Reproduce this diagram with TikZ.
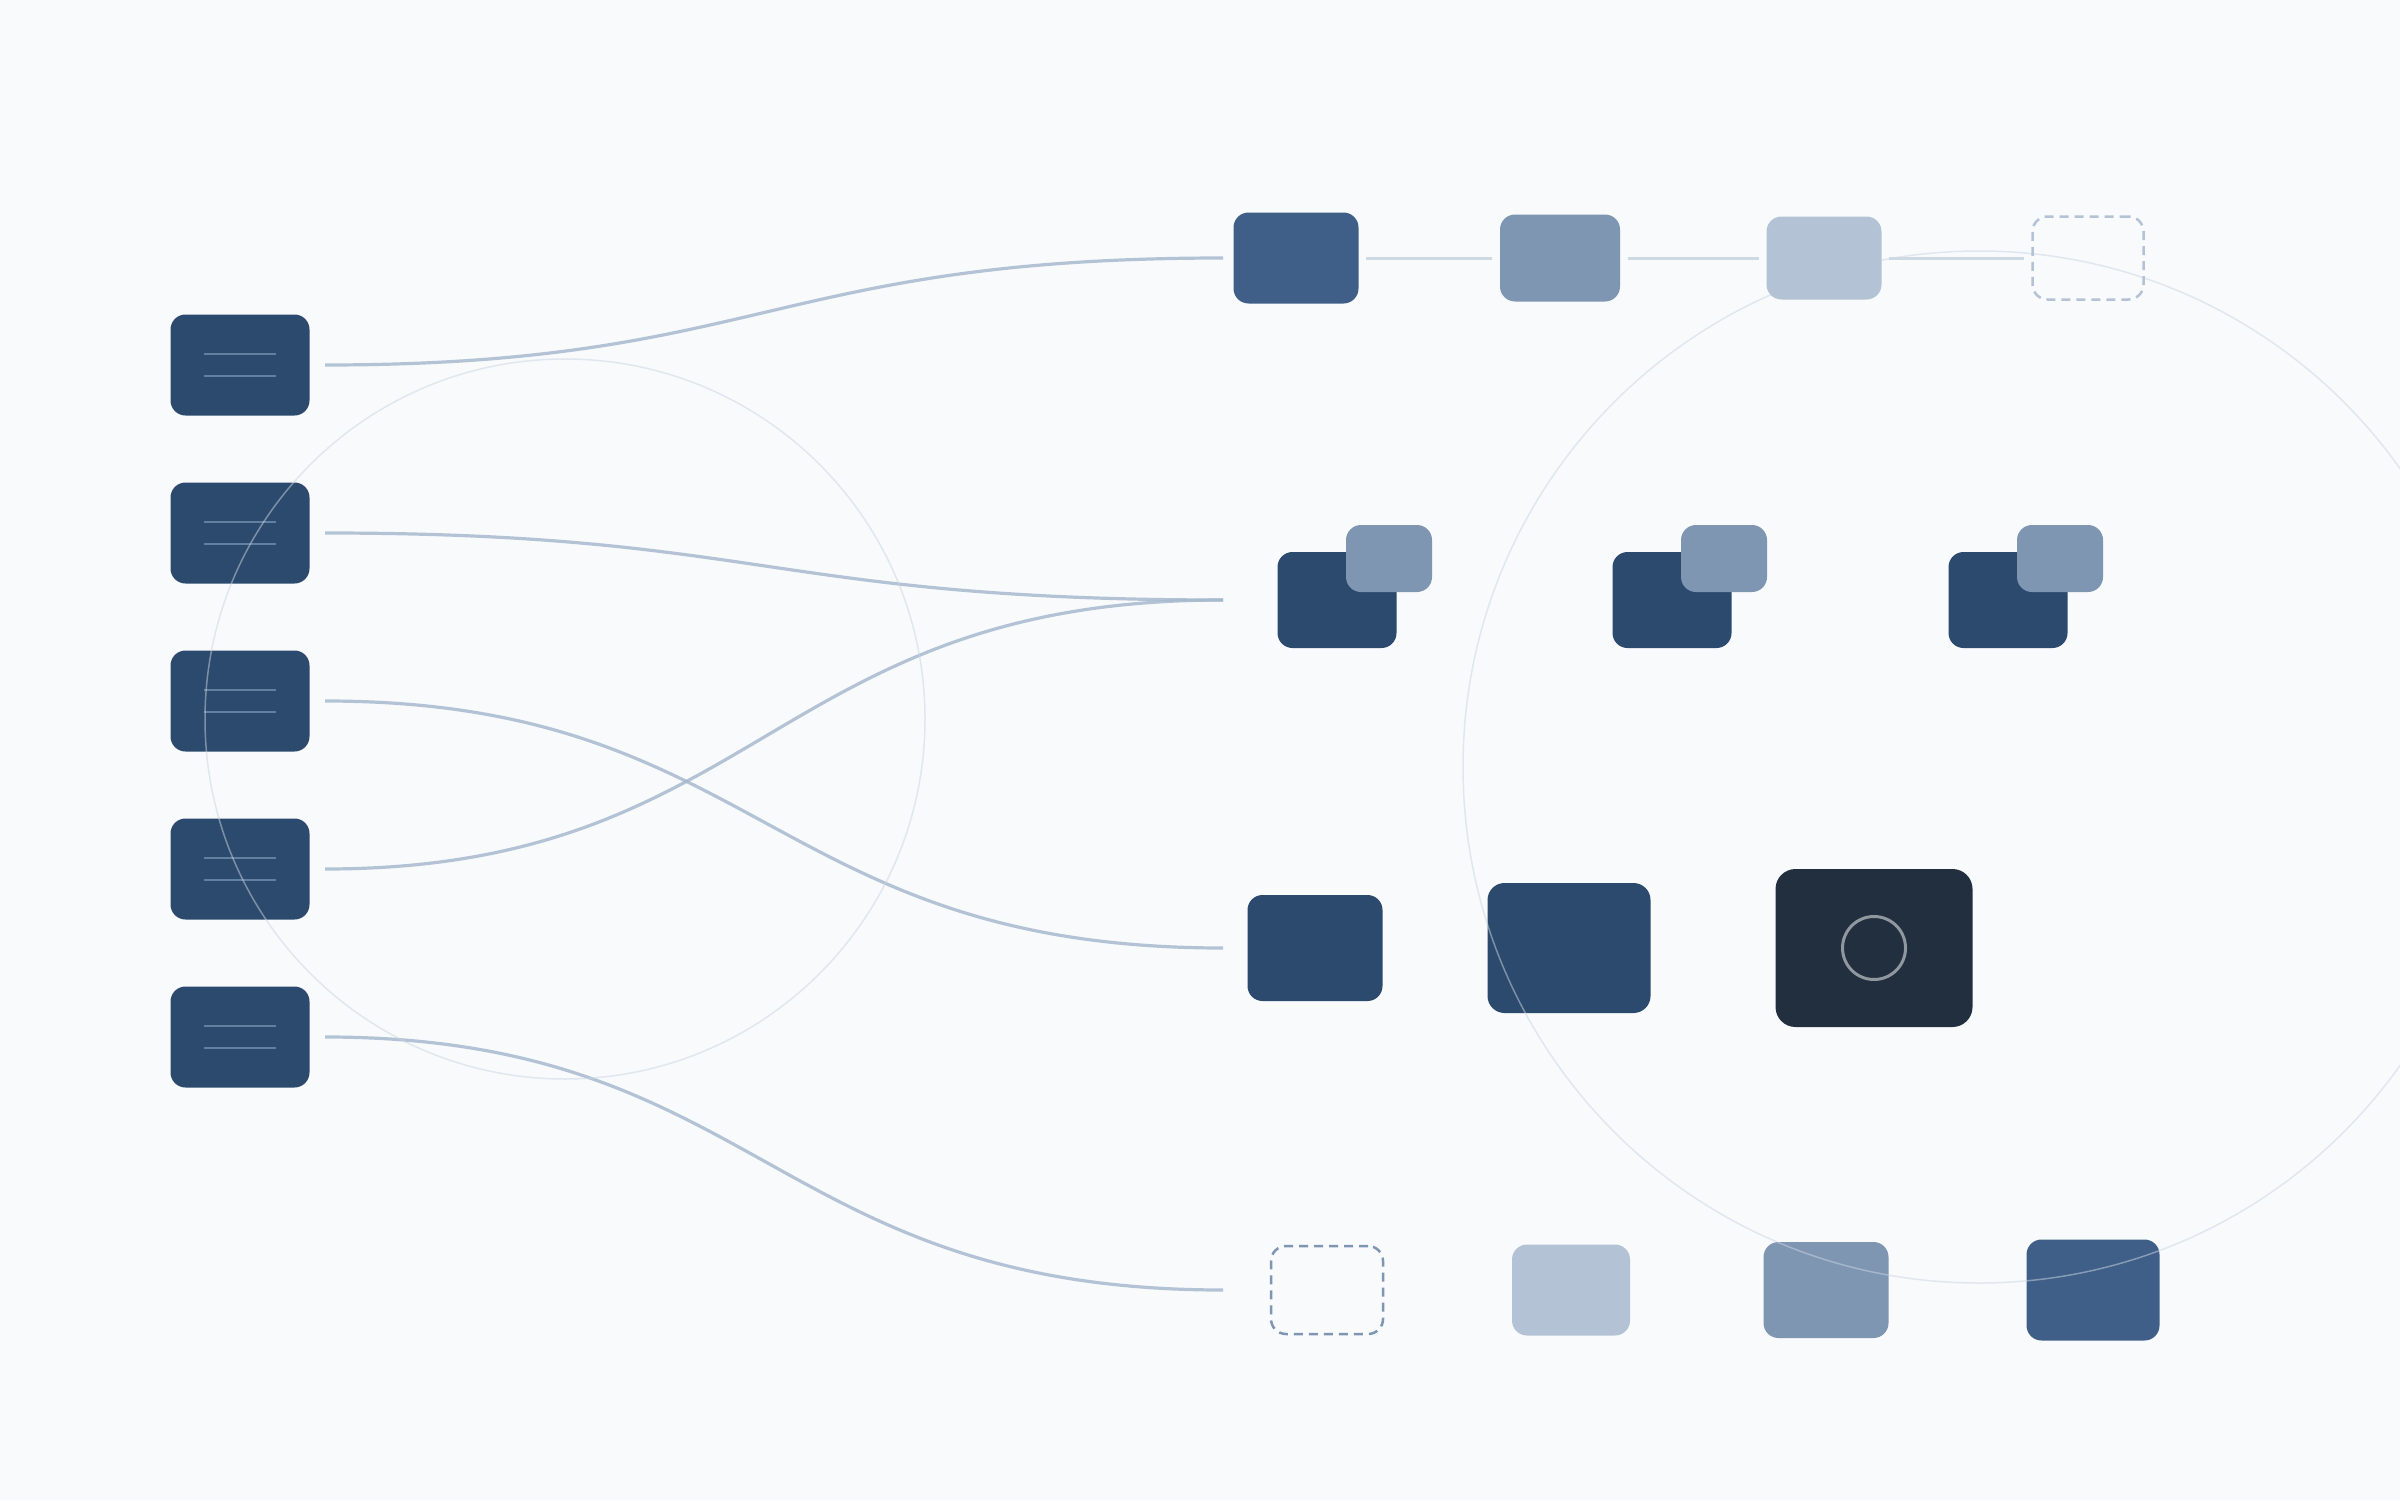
\documentclass[tikz,border=0pt]{standalone}
\usetikzlibrary{positioning}

\definecolor{bg}{HTML}{F8FAFC}
\definecolor{navy}{HTML}{2C4A6E}
\definecolor{steel}{HTML}{3F5F88}
\definecolor{slate}{HTML}{7F96B3}
\definecolor{mist}{HTML}{B3C3D5}
\definecolor{ink}{HTML}{222F3E}
\definecolor{wire}{HTML}{A7B9CD}
\definecolor{rail}{HTML}{CFD9E4}
\definecolor{halo}{HTML}{CBD5E1}
\definecolor{barline}{HTML}{62809F}
\definecolor{ring}{HTML}{8F979F}

\begin{document}
\begin{tikzpicture}[
x=0.1mm, y=-0.1mm,
node distance={26.4mm},
box/.style = {rectangle, rounded corners=1.5mm, inner sep=0, draw=none},
doc/.style = {box, fill=navy, minimum width=13.9mm, minimum height=10.1mm},
ghost/.style = {box, line width=0.25mm, dash pattern=on 0.9mm off 0.6mm},
wire/.style = {draw=wire, line width=0.32mm, opacity=0.85, shorten <=1.5mm},
rail/.style = {draw=rail, line width=0.3mm, shorten <=0.7mm, shorten >=0.7mm},
halo/.style = {draw=halo, line width=0.15mm, opacity=0.5},
bar/.style = {draw=barline, line width=0.25mm} ]

\fill[bg] (0,0) rectangle (2400,1500);
\useasboundingbox (0,0) rectangle (2400,1500);

% documents
\node[doc] (d1) at (240,365) {};
\foreach \i/\j in {2/1,3/2,4/3,5/4}
  \node[doc, below of=d\j, node distance=16.8mm] (d\i) {};
\foreach \i in {1,...,5} {
  \draw[bar] ([xshift=-3.6mm,yshift=1.1mm]d\i.center) -- ++(72,0);
  \draw[bar] ([xshift=-3.6mm,yshift=-1.1mm]d\i.center) -- ++(72,0);
}

% stacked pairs
\foreach \x [count=\i] in {1337,1672,2008} {
  \node[box, fill=navy, minimum width=11.9mm, minimum height=9.6mm] (p\i) at (\x,600) {};
  \node[box, fill=slate, minimum width=8.6mm, minimum height=6.7mm] (q\i) at ([xshift=5.2mm,yshift=4.15mm]p\i.center) {};
}

% growing blocks
\node[box, fill=navy, minimum width=13.5mm, minimum height=10.6mm] (m1) at (1315,948) {};
\node[box, fill=navy, rounded corners=1.7mm, minimum width=16.3mm, minimum height=13mm] (m2) at (1569,948) {};
\node[box, fill=ink, rounded corners=2mm, minimum width=19.7mm, minimum height=15.8mm] (m3) at (1874,948) {};
\node[circle, draw=ring, line width=0.3mm, minimum size=6.3mm, inner sep=0] (m4) at (m3) {};

% bottom row
\node[ghost, draw=slate, minimum width=11.2mm, minimum height=8.8mm] (b1) at (1327,1290) {};
\node[box, fill=mist, minimum width=11.8mm, minimum height=9.1mm] (b2) at (1571,1290) {};
\node[box, fill=slate, minimum width=12.5mm, minimum height=9.6mm] (b3) at (1826,1290) {};
\node[box, fill=steel, minimum width=13.3mm, minimum height=10.1mm] (b4) at (2093,1290) {};

% curve ends
\coordinate (t0) at (1223,258);
\coordinate (p0) at (1223,600);
\coordinate (m0) at (1223,948);
\coordinate (b0) at (1223,1290);

\draw[wire] (d1.east) .. controls +(450,0) and +(-450,0) .. (t0);
\draw[wire] (d2.east) .. controls +(450,0) and +(-450,0) .. (p0);
\draw[wire] (d3.east) .. controls +(450,0) and +(-450,0) .. (m0);
\draw[wire] (d4.east) .. controls +(450,0) and +(-450,0) .. (p0);
\draw[wire] (d5.east) .. controls +(450,0) and +(-450,0) .. (b0);

% rings
\draw[halo] (565,719) circle[radius=36mm];
\draw[halo] (1979,767) circle[radius=51.6mm];

% top row
\node[box, fill=steel, minimum width=12.5mm, minimum height=9.1mm] (t1) at (1296,258) {};
\node[box, fill=slate, minimum width=12mm, minimum height=8.7mm, right of=t1] (t2) {};
\node[box, fill=mist, minimum width=11.5mm, minimum height=8.3mm, right of=t2] (t3) {};
\node[ghost, draw=mist, minimum width=11.1mm, minimum height=8.3mm, right of=t3] (t4) {};

\draw[rail] (t1) -- (t2);
\draw[rail] (t2) -- (t3);
\draw[rail] (t3) -- (t4);

\end{tikzpicture}
\end{document}
